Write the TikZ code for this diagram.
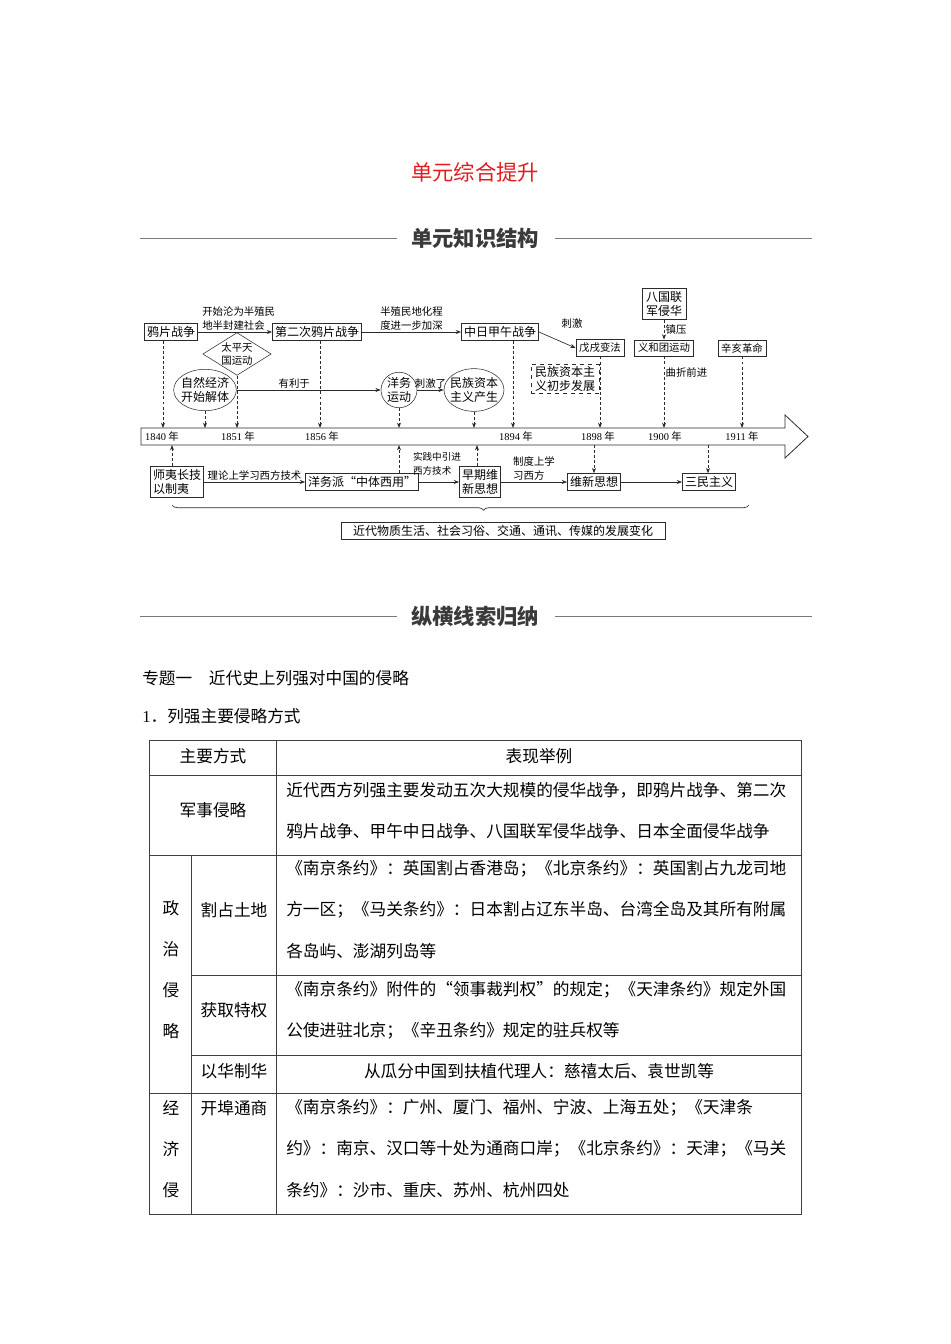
\documentclass[tikz,border=0pt]{standalone}
\usepackage{fontspec}
\setmainfont{Liberation Serif}
\newfontfamily\cjk{Noto Sans CJK SC}
\usepackage{tikz}
\usetikzlibrary{arrows.meta, positioning, shapes.geometric, decorations.pathreplacing}
\usepackage{xcolor}

\definecolor{inkgray}{HTML}{2B2B2B}
\definecolor{rulegray}{HTML}{7A7A7A}
\definecolor{tabgray}{HTML}{404040}
\definecolor{titlered}{HTML}{E51A1F}
\definecolor{headgray}{HTML}{3A3A3A}

\newcommand{\dsize}{\fontsize{9}{10.5}\selectfont}
\newcommand{\lsize}{\fontsize{7.8}{10.2}\selectfont}
\newcommand{\tsize}{\fontsize{12.5}{15}\selectfont}
\newcommand{\headsize}{\fontsize{16}{18}\selectfont}
\newcommand{\yearlbl}[1]{{\rmfamily #1} 年}

\begin{document}
\begin{tikzpicture}[
    x=0.75pt, y=-0.75pt,
    color=inkgray, text=black, font=\cjk,
    box/.style = {draw, font=\cjk\dsize, align=left, inner xsep=2pt, inner ysep=2.2pt},
    sbox/.style = {box, font=\cjk\lsize, inner xsep=2.5pt, inner ysep=2.5pt},
    dbox/.style = {box, dashed, inner xsep=3pt, inner ysep=1.5pt},
    oval/.style = {ellipse, draw, font=\cjk\dsize, align=center, inner xsep=-3pt, inner ysep=0pt},
    lbl/.style = {font=\cjk\lsize, align=left, inner sep=1pt},
    arr/.style = {-{Stealth[length=4pt, width=3pt]}, line width=0.5pt},
    darr/.style = {arr, dash pattern=on 2.2pt off 1.6pt},
    cell/.style = {font=\cjk\tsize, inner sep=0pt},
    tabline/.style = {tabgray, line width=0.7pt},
    rule/.style = {rulegray, line width=0.7pt}
  ]
  \useasboundingbox (0,0) rectangle (950,1344);

  % page headings
  \node[font=\cjk\headsize, text=titlered] (title) at (475,172) {单元综合提升};
  \node[font=\cjk\headsize\bfseries, text=headgray] (head1) at (475,238) {单元知识结构};
  \draw[rule] (140,238) -- (397,238);
  \draw[rule] (555,238) -- (812,238);

  % time axis, drawn as an open arrow
  \draw[line width=0.6pt] (141,428) -- (785,428) -- (785,415) -- (808,436.5)
    -- (785,458) -- (785,445) -- (141,445) -- cycle;
  \node[lbl] (y1840) at (162,437) {\yearlbl{1840}};
  \node[lbl] (y1851) at (238,437) {\yearlbl{1851}};
  \node[lbl] (y1856) at (322,437) {\yearlbl{1856}};
  \node[lbl] (y1894) at (516,437) {\yearlbl{1894}};
  \node[lbl] (y1898) at (598,437) {\yearlbl{1898}};
  \node[lbl] (y1900) at (665,437) {\yearlbl{1900}};
  \node[lbl] (y1911) at (742,437) {\yearlbl{1911}};

  \coordinate (a1840)   at (163,428);
  \coordinate (aziran)  at (205,428);
  \coordinate (a1851)   at (237,428);
  \coordinate (a1856)   at (320,428);
  \coordinate (ayangwu) at (399,428);
  \coordinate (aminzu)  at (474,428);
  \coordinate (a1894)   at (513,428);
  \coordinate (a1898)   at (600,428);
  \coordinate (a1900)   at (664,428);
  \coordinate (a1911)   at (742,428);
  \coordinate (b1840)   at (172,445);
  \coordinate (byangwu) at (399,445);
  \coordinate (bzaoqi)  at (477,445);
  \coordinate (bweixin) at (594,445);
  \coordinate (bsanmin) at (708,445);

  % events above the axis
  \node[box]  (opium)  at (171,332) {鸦片战争};
  \node[box]  (opium2) at (317,332) {第二次鸦片战争};
  \node[box]  (jiawu)  at (500,332) {中日甲午战争};
  \node[sbox] (wuxu)   at (600,348) {戊戌变法};
  \node[sbox] (yihe)   at (664,348) {义和团运动};
  \node[sbox] (xinhai) at (742,348) {辛亥革命};
  \node[box, inner xsep=3pt] (baguo) at (664,304) {八国联\\军侵华};
  \node[diamond, draw, aspect=1.6, inner sep=0pt, font=\cjk\lsize, align=center]
    (taiping) at (237,354) {太平天\\国运动};
  \node[oval, minimum width=47pt, minimum height=31pt] (ziran)  at (205,390) {自然经济\\开始解体};
  \node[oval, minimum width=27pt, minimum height=25.5pt] (yangwu) at (399,390) {洋务\\运动};
  \node[oval, minimum width=45pt, minimum height=32pt] (minzu)  at (474,390) {民族资本\\主义产生};
  \node[dbox] (minzu2) at (565,379) {民族资本主\\义初步发展};

  \draw[arr] (opium) -- node[lbl, above, pos=0.55] {开始沦为半殖民\\地半封建社会} (opium2);
  \draw[arr] (opium2) -- node[lbl, above] {半殖民地化程\\度进一步加深} (jiawu);
  \draw[arr] (jiawu.east) -- (wuxu.west);
  \node[lbl] (ciji) at (572,324) {刺激};
  \draw[arr] (ziran) -- node[lbl, above, pos=0.4] {有利于} (yangwu);
  \draw[arr] (yangwu) -- node[lbl, above] {刺激了} (minzu);
  \draw[darr] (baguo) -- node[lbl, right] {镇压} (yihe);

  % dashed drops onto the axis
  \draw[darr] (opium.south -| a1840) -- (a1840);
  \draw[darr] (ziran.south) -- (aziran);
  \draw[darr] (taiping.south) -- (a1851);
  \draw[darr] (opium2.south -| a1856) -- (a1856);
  \draw[darr] (yangwu.south) -- (ayangwu);
  \draw[darr] (minzu.south) -- (aminzu);
  \draw[darr] (jiawu.south -| a1894) -- (a1894);
  \draw[darr] (wuxu.south) -- (a1898);
  \draw[darr] (yihe.south) -- node[lbl, right, pos=0.22] {曲折前进} (a1900);
  \draw[darr] (xinhai.south) -- (a1911);

  % thought line below the axis
  \node[box] (shiyi)     at (177,482) {师夷长技\\以制夷};
  \node[box] (yangwupai) at (362,482) {洋务派“中体西用”};
  \node[box] (zaoqi)     at (480,482) {早期维\\新思想};
  \node[box] (weixin)    at (594,482) {维新思想};
  \node[box] (sanmin)    at (709,482) {三民主义};

  \draw[darr] (shiyi.north -| b1840) -- (b1840);
  \draw[darr] (yangwupai.north -| byangwu) -- (byangwu);
  \draw[darr] (zaoqi.north -| bzaoqi) -- (bzaoqi);
  \draw[darr] (bweixin) -- (weixin.north -| bweixin);
  \draw[darr] (bsanmin) -- (sanmin.north -| bsanmin);
  \draw[arr] (shiyi) -- node[lbl, above] {理论上学习西方技术} (yangwupai);
  \draw[arr] (yangwupai) -- node[lbl, above=4pt, xshift=-1.5pt, font=\cjk\fontsize{7.2}{10.2}\selectfont]
    {实践中引进\\西方技术} (zaoqi);
  \draw[arr] (zaoqi) -- node[lbl, above] {制度上学\\习西方} (weixin);
  \draw[arr] (weixin) -- (sanmin);

  \draw[decorate, decoration={brace, mirror, amplitude=4pt, aspect=0.54}, line width=0.5pt]
    (172,505) -- (749,505);
  \node[box, inner xsep=9pt] (material) at (503,531) {近代物质生活、社会习俗、交通、通讯、传媒的发展变化};

  % second section
  \node[font=\cjk\headsize\bfseries, text=headgray] (head2) at (475,616) {纵横线索归纳};
  \draw[rule] (140,616) -- (397,616);
  \draw[rule] (555,616) -- (812,616);
  \node[cell, anchor=west] (topic) at (142,678) {专题一　近代史上列强对中国的侵略};
  \node[cell, anchor=west] (item)  at (142,716) {{\rmfamily 1}．列强主要侵略方式};

  % table grid
  \draw[tabline] (149,740) rectangle (801,1214);
  \draw[tabline] (149,775) -- (801,775);
  \draw[tabline] (149,855) -- (801,855);
  \draw[tabline] (191,975) -- (801,975);
  \draw[tabline] (191,1055) -- (801,1055);
  \draw[tabline] (149,1093) -- (801,1093);
  \draw[tabline] (276,740) -- (276,1214);
  \draw[tabline] (191,855) -- (191,1214);

  % table text
  \node[cell] (h1) at (213,756) {主要方式};
  \node[cell] (h2) at (539,756) {表现举例};
  \node[cell] (k1) at (213,810) {军事侵略};
  \node[cell, anchor=west] (r1a) at (286,790) {近代西方列强主要发动五次大规模的侵华战争，即鸦片战争、第二次};
  \node[cell, anchor=west] (r1b) at (286,831) {鸦片战争、甲午中日战争、八国联军侵华战争、日本全面侵华战争};

  \node[cell] (z1) at (171,908) {政};
  \node[cell] (z2) at (171,949) {治};
  \node[cell] (z3) at (171,990) {侵};
  \node[cell] (z4) at (171,1031) {略};
  \node[cell] (k2) at (234,910) {割占土地};
  \node[cell, anchor=west] (r2a) at (286,869) {《南京条约》：英国割占香港岛；《北京条约》：英国割占九龙司地};
  \node[cell, anchor=west] (r2b) at (286,910) {方一区；《马关条约》：日本割占辽东半岛、台湾全岛及其所有附属};
  \node[cell, anchor=west] (r2c) at (286,951) {各岛屿、澎湖列岛等};
  \node[cell] (k3) at (234,1010) {获取特权};
  \node[cell, anchor=west] (r3a) at (286,990) {《南京条约》附件的“领事裁判权”的规定；《天津条约》规定外国};
  \node[cell, anchor=west] (r3b) at (286,1031) {公使进驻北京；《辛丑条约》规定的驻兵权等};
  \node[cell] (k4) at (234,1071) {以华制华};
  \node[cell] (r4) at (539,1071) {从瓜分中国到扶植代理人：慈禧太后、袁世凯等};

  \node[cell] (j1) at (171,1108) {经};
  \node[cell] (j2) at (171,1149) {济};
  \node[cell] (j3) at (171,1190) {侵};
  \node[cell] (k5) at (234,1108) {开埠通商};
  \node[cell, anchor=west] (r5a) at (286,1108) {《南京条约》：广州、厦门、福州、宁波、上海五处；《天津条};
  \node[cell, anchor=west] (r5b) at (286,1149) {约》：南京、汉口等十处为通商口岸；《北京条约》：天津；《马关};
  \node[cell, anchor=west] (r5c) at (286,1190) {条约》：沙市、重庆、苏州、杭州四处};
\end{tikzpicture}
\end{document}
